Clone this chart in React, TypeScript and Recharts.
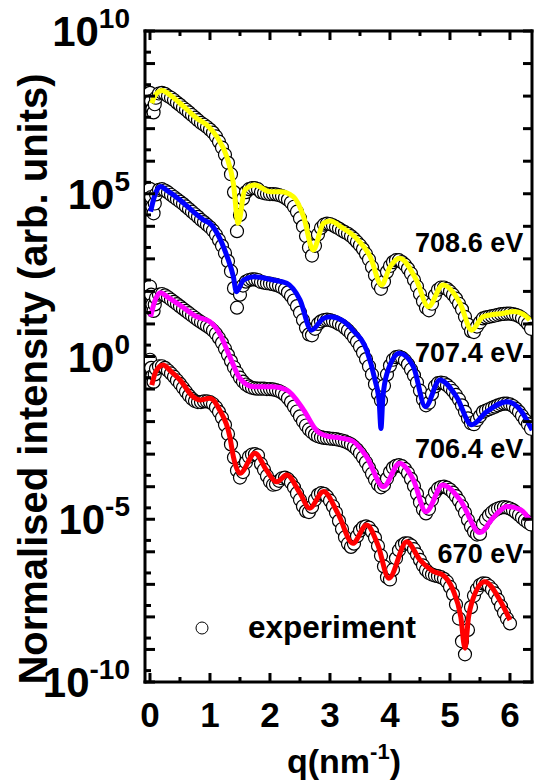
import React from 'react';
import { ComposedChart, Line, Scatter, XAxis, YAxis, ReferenceDot, Legend } from 'recharts';

const FONT = '"Liberation Sans", Arial, Helvetica, sans-serif';

// ---------- experiment (open circles): q grid and log10(intensity) ----------
const expQ = [0, 0.02, 0.04, 0.06, 0.08, 0.1,
  0.15, 0.2, 0.25, 0.3, 0.35, 0.4, 0.45, 0.5, 0.55, 0.6,
  0.65, 0.7, 0.75, 0.8, 0.85, 0.9, 0.95, 1.0, 1.05, 1.1,
  1.15, 1.2, 1.25, 1.3, 1.35, 1.4, 1.45, 1.5, 1.55, 1.6,
  1.65, 1.7, 1.75, 1.8, 1.85, 1.9, 1.95, 2.0, 2.05, 2.1,
  2.15, 2.2, 2.25, 2.3, 2.35, 2.4, 2.45, 2.5, 2.55, 2.6,
  2.65, 2.7, 2.75, 2.8, 2.85, 2.9, 2.95, 3.0, 3.05, 3.1,
  3.15, 3.2, 3.25, 3.3, 3.35, 3.4, 3.45, 3.5, 3.55, 3.6,
  3.65, 3.7, 3.75, 3.8, 3.85, 3.9, 3.95, 4.0, 4.05, 4.1,
  4.15, 4.2, 4.25, 4.3, 4.35, 4.4, 4.45, 4.5, 4.55, 4.6,
  4.65, 4.7, 4.75, 4.8, 4.85, 4.9, 4.95, 5.0, 5.05, 5.1,
  5.15, 5.2, 5.25, 5.3, 5.35, 5.4, 5.45, 5.5, 5.55, 5.6,
  5.65, 5.7, 5.75, 5.8, 5.85, 5.9, 5.95, 6.0, 6.05, 6.1,
  6.15, 6.2, 6.25, 6.3, 6.35];

const exp7086 = [8.10, 7.85, 7.60, 7.50, 7.75, 7.95,
  8.08, 8.10, 8.07, 8.00, 7.95, 7.88, 7.80, 7.73, 7.65, 7.58,
  7.50, 7.42, 7.34, 7.26, 7.18, 7.12, 7.05, 6.97, 6.88, 6.76,
  6.60, 6.42, 6.20, 5.95, 5.60, 5.05, 3.85, 4.35, 4.85, 5.05,
  5.14, 5.17, 5.17, 5.14, 5.05, 5.02, 5.00, 4.99, 4.99, 4.98,
  4.96, 4.93, 4.88, 4.82, 4.73, 4.60, 4.45, 4.25, 4.00, 3.70,
  3.35, 3.10, 3.40, 3.75, 3.95, 4.05, 4.08, 4.07, 4.03, 3.98,
  3.93, 3.87, 3.82, 3.77, 3.70, 3.62, 3.52, 3.42, 3.30, 3.15,
  2.98, 2.75, 2.50, 2.22, 2.08, 2.30, 2.60, 2.78, 2.90, 2.96,
  2.96, 2.90, 2.82, 2.70, 2.55, 2.35, 2.15, 1.92, 1.70, 1.50,
  1.42, 1.62, 1.88, 2.05, 2.12, 2.12, 2.08, 2.00, 1.90, 1.78,
  1.62, 1.45, 1.22, 0.98, 0.78, 0.75, 0.92, 1.05, 1.17, 1.20,
  1.22, 1.24, 1.26, 1.28, 1.30, 1.31, 1.32, 1.32, 1.30, 1.28,
  1.24, 1.18, 1.10, 1.00, 0.85];

const exp7074 = [5.15, 4.90, 4.60, 4.40, 4.70, 4.98,
  5.12, 5.14, 5.10, 5.04, 4.97, 4.90, 4.83, 4.76, 4.69, 4.61,
  4.53, 4.45, 4.37, 4.29, 4.20, 4.13, 4.05, 3.97, 3.87, 3.74,
  3.58, 3.40, 3.18, 2.93, 2.62, 2.10, 1.50, 1.90, 2.18, 2.30,
  2.35, 2.37, 2.37, 2.35, 2.29, 2.27, 2.25, 2.24, 2.22, 2.20,
  2.17, 2.12, 2.06, 1.97, 1.86, 1.72, 1.55, 1.35, 1.12, 0.88,
  0.68, 0.65, 0.85, 1.00, 1.08, 1.12, 1.13, 1.12, 1.09, 1.05,
  1.00, 0.95, 0.88, 0.80, 0.70, 0.58, 0.45, 0.30, 0.12, -0.08,
  -0.30, -0.55, -0.85, -1.15, -1.35, -0.90, -0.55, -0.28, -0.10, -0.02,
  0.00, -0.04, -0.12, -0.24, -0.40, -0.58, -0.80, -1.05, -1.32, -1.50,
  -1.42, -1.15, -0.92, -0.82, -0.80, -0.82, -0.88, -0.96, -1.06, -1.18,
  -1.32, -1.50, -1.70, -1.90, -2.05, -2.08, -1.95, -1.83, -1.70, -1.66,
  -1.62, -1.58, -1.54, -1.50, -1.47, -1.45, -1.45, -1.47, -1.52, -1.60,
  -1.70, -1.82, -1.95, -2.08, -2.22];

const exp7064 = [2.15, 1.90, 1.60, 1.40, 1.60, 1.80,
  1.90, 1.92, 1.88, 1.82, 1.75, 1.68, 1.61, 1.54, 1.47, 1.40,
  1.33, 1.26, 1.19, 1.12, 1.06, 1.00, 0.94, 0.88, 0.80, 0.70,
  0.57, 0.42, 0.24, 0.05, -0.14, -0.33, -0.50, -0.65, -0.77, -0.86,
  -0.92, -0.96, -0.98, -0.99, -0.99, -0.99, -1.00, -1.00, -1.01, -1.03,
  -1.06, -1.11, -1.18, -1.28, -1.40, -1.54, -1.69, -1.84, -1.99, -2.12,
  -2.24, -2.33, -2.40, -2.45, -2.48, -2.50, -2.51, -2.52, -2.53, -2.54,
  -2.56, -2.58, -2.61, -2.65, -2.70, -2.77, -2.86, -2.97, -3.10, -3.25,
  -3.42, -3.60, -3.78, -3.93, -4.02, -3.95, -3.75, -3.55, -3.42, -3.36,
  -3.34, -3.37, -3.45, -3.58, -3.76, -3.98, -4.22, -4.48, -4.70, -4.82,
  -4.68, -4.40, -4.18, -4.06, -4.01, -4.00, -4.03, -4.09, -4.18, -4.29,
  -4.43, -4.60, -4.80, -5.02, -5.22, -5.38, -5.47, -5.45, -5.15, -5.00,
  -4.88, -4.79, -4.72, -4.67, -4.64, -4.63, -4.64, -4.67, -4.72, -4.79,
  -4.87, -4.95, -5.03, -5.10, -5.16];

const exp670 = [-0.10, -0.35, -0.60, -0.78, -0.55, -0.38,
  -0.30, -0.30, -0.35, -0.43, -0.52, -0.62, -0.73, -0.84, -0.96, -1.08,
  -1.20, -1.30, -1.37, -1.40, -1.40, -1.38, -1.38, -1.40, -1.46, -1.56,
  -1.70, -1.88, -2.10, -2.38, -2.70, -3.10, -3.50, -3.72, -3.55, -3.25,
  -3.08, -3.01, -3.00, -3.04, -3.30, -3.48, -3.67, -3.84, -3.94, -3.92,
  -3.82, -3.74, -3.72, -3.77, -3.87, -4.02, -4.20, -4.40, -4.60, -4.75,
  -4.78, -4.62, -4.40, -4.25, -4.20, -4.22, -4.30, -4.43, -4.60, -4.80,
  -5.05, -5.30, -5.55, -5.75, -5.85, -5.75, -5.52, -5.35, -5.25, -5.22,
  -5.26, -5.38, -5.57, -5.82, -6.12, -6.45, -6.78, -6.85, -6.55, -6.20,
  -5.95, -5.80, -5.74, -5.74, -5.80, -5.92, -6.08, -6.25, -6.42, -6.56,
  -6.65, -6.70, -6.73, -6.75, -6.78, -6.83, -6.92, -7.08, -7.30, -7.62,
  -8.05, -8.75, -9.15, -8.40, -7.70, -7.35, -7.15, -7.02, -6.97, -6.98,
  -7.05, -7.15, -7.28, -7.47, -7.67, -7.87, -8.05, -8.20];

// ---------- fits (solid lines): q and log10(intensity) ----------
const fitQ7086 = [0.03, 0.08, 0.2, 0.345, 0.5, 0.64, 0.78, 0.95, 1.115, 1.28, 1.39, 1.47, 1.58, 1.75, 2.0, 2.17, 2.39, 2.56, 2.72, 2.89, 3.0, 3.21, 3.44, 3.67, 3.86, 4.0, 4.16, 4.44, 4.64, 4.88, 5.17, 5.36, 5.55, 5.89, 6.06, 6.22, 6.33];
const fitE7086 = [7.78, 8.0, 8.17, 8.02, 7.78, 7.55, 7.32, 7.11, 6.75, 6.14, 5.32, 4.09, 5.12, 5.27, 5.06, 5.06, 4.91, 4.30, 3.27, 4.09, 4.16, 3.95, 3.63, 3.07, 2.20, 2.75, 3.02, 2.35, 1.53, 2.20, 1.63, 0.81, 1.22, 1.33, 1.38, 1.30, 1.12];

const fitQ7074 = [0.01, 0.08, 0.17, 0.3, 0.5, 0.74, 0.89, 1.0, 1.13, 1.28, 1.39, 1.44, 1.56, 1.73, 2.05, 2.28, 2.5, 2.69, 2.89, 3.01, 3.21, 3.38, 3.61, 3.75, 3.82, 3.85, 3.88, 3.95, 4.16, 4.39, 4.59, 4.83, 5.11, 5.36, 5.61, 5.95, 6.17, 6.37];
const fitE7074 = [4.45, 4.95, 5.22, 5.08, 4.81, 4.42, 4.20, 4.09, 3.75, 3.10, 2.45, 1.99, 2.35, 2.45, 2.35, 2.25, 1.74, 0.81, 1.17, 1.22, 1.10, 0.81, 0.20, -0.72, -1.4, -2.21, -1.3, -0.52, 0.10, -0.31, -1.54, -0.72, -1.24, -2.10, -1.70, -1.39, -1.64, -2.26];

const fitQ7064 = [0.01, 0.08, 0.17, 0.3, 0.5, 0.78, 1.0, 1.16, 1.33, 1.5, 1.73, 2.05, 2.28, 2.56, 2.78, 2.96, 3.16, 3.38, 3.61, 3.89, 4.16, 4.39, 4.6, 4.88, 5.17, 5.5, 5.72, 5.95, 6.17, 6.33];
const fitE7064 = [1.22, 1.70, 1.96, 1.82, 1.58, 1.22, 1.07, 0.71, 0.0, -0.67, -0.93, -0.93, -1.03, -1.64, -2.28, -2.45, -2.50, -2.60, -3.08, -4.0, -3.28, -3.79, -4.77, -3.95, -4.41, -5.41, -4.95, -4.61, -4.70, -5.02];

const fitQ670 = [0.03, 0.1, 0.22, 0.345, 0.5, 0.72, 0.83, 1.0, 1.16, 1.33, 1.39, 1.5, 1.75, 1.94, 2.11, 2.28, 2.5, 2.66, 2.89, 3.14, 3.38, 3.61, 3.8, 3.98, 4.28, 4.5, 4.73, 4.88, 5.05, 5.18, 5.25, 5.31, 5.36, 5.58, 5.83, 6.0];
const fitE670 = [-0.88, -0.45, -0.26, -0.45, -0.72, -1.24, -1.34, -1.28, -1.64, -2.46, -3.08, -3.59, -2.97, -3.49, -3.85, -3.64, -4.20, -4.66, -4.15, -4.85, -5.74, -5.18, -5.80, -6.81, -5.69, -6.25, -6.61, -6.71, -7.17, -8.0, -8.96, -8.0, -7.58, -6.92, -7.48, -8.10];

// ---------- labels & ticks ----------
const seriesNames = ['708.6 eV', '707.4 eV', '706.4 eV', '670 eV'];
const seriesColors = ['#FFFF00', '#0000FF', '#FF00FF', '#FF0000'];
const labelQ = [6.22, 6.22, 6.22, 6.22];
const labelE = [3.21, -0.17, -3.12, -6.34];
const xTicks = [0, 0.5, 1, 1.5, 2, 2.5, 3, 3.5, 4, 4.5, 5, 5.5, 6];
const yDecades = [-10, -9, -8, -7, -6, -5, -4, -3, -2, -1, 0, 1, 2, 3, 4, 5, 6, 7, 8, 9, 10];
const yLabelled = [-10, -5, 0, 5, 10];
const minorOffset = 0.35;

const toPts = (qs: number[], es: number[]) =>
  es.map((e, i) => ({ q: qs[i], v: Math.pow(10, e) }));

const fits = [
  toPts(fitQ7086, fitE7086),
  toPts(fitQ7074, fitE7074),
  toPts(fitQ7064, fitE7064),
  toPts(fitQ670, fitE670),
];
const exps = [
  toPts(expQ, exp7086),
  toPts(expQ, exp7074),
  toPts(expQ, exp7064),
  toPts(expQ, exp670),
];

const leftTicks = [
  ...yDecades.map((d) => Math.pow(10, d)),
  ...yDecades.slice(0, -1).map((d) => Math.pow(10, d + minorOffset)),
];
const rightTicks = yDecades.map((d) => Math.pow(10, d));

const isMajorLog = (v: number) => {
  const e = Math.log10(v);
  return Math.abs(e - Math.round(e)) < 1e-6;
};

const LeftTick = (p: any) => {
  const { x, y, payload } = p;
  const major = isMajorLog(payload.value);
  const e = Math.round(Math.log10(payload.value));
  return (
    <g>
      <line x1={x} x2={x + (major ? 10 : 6)} y1={y} y2={y} stroke="#000" strokeWidth={3} />
      {major && yLabelled.includes(e) && (
        <text x={x - 15} y={y + 15} textAnchor="end" fontSize={42} fontWeight="bold" fontFamily={FONT} fill="#000">
          10<tspan dy={-18} fontSize={28}>{e}</tspan>
        </text>
      )}
    </g>
  );
};

const RightTick = (p: any) => {
  const { x, y } = p;
  return <line x1={x} x2={x - 9} y1={y} y2={y} stroke="#000" strokeWidth={3} />;
};

const BottomTick = (p: any) => {
  const { x, y, payload } = p;
  const major = Number.isInteger(payload.value);
  return (
    <g>
      <line x1={x} x2={x} y1={y} y2={y - (major ? 9 : 5)} stroke="#000" strokeWidth={3} />
      {major && (
        <text x={x} y={y + 45} textAnchor="middle" fontSize={35} fontWeight="bold" fontFamily={FONT} fill="#000">
          {payload.value}
        </text>
      )}
    </g>
  );
};

const TopTick = (p: any) => {
  const { x, y, payload } = p;
  const major = Number.isInteger(payload.value);
  return <line x1={x} x2={x} y1={y} y2={y + (major ? 9 : 5)} stroke="#000" strokeWidth={3} />;
};

const YTitle = () => (
  <text transform="translate(47,379) rotate(-90)" textAnchor="middle" fontSize={40} fontWeight="bold" fontFamily={FONT} fill="#000">
    Normalised intensity (arb. units)
  </text>
);

const XTitle = () => (
  <text x={344} y={773} textAnchor="middle" fontSize={34} fontWeight="bold" fontFamily={FONT} fill="#000">
    q(nm<tspan dy={-14} fontSize={22}>-1</tspan><tspan dy={14}>)</tspan>
  </text>
);

const circleShape = (p: any) => (
  <circle cx={p.cx} cy={p.cy} r={6.5} fill="#fff" stroke="#000" strokeWidth={1.2} />
);

const LegendContent = () => (
  <svg width={260} height={36} style={{ display: 'block' }}>
    <circle cx={12} cy={18} r={6} fill="#fff" stroke="#000" strokeWidth={1} />
    <text x={58} y={28} fontSize={31.5} fontWeight="bold" fontFamily={FONT} fill="#000">experiment</text>
  </svg>
);

const axisLine = { stroke: '#000', strokeWidth: 3, strokeLinecap: 'square' as const };

export default function App() {
  return (
    <div style={{ position: 'absolute', left: 0, top: 0, background: '#fff' }}>
      <ComposedChart width={536} height={780} margin={{ top: 30, right: 3, bottom: 97, left: 144 }}>
        <XAxis
          xAxisId={0}
          dataKey="q"
          type="number"
          domain={[-0.083, 6.367]}
          allowDataOverflow
          ticks={xTicks}
          interval={0}
          height={1}
          tickSize={0}
          tickMargin={0}
          tickLine={false}
          axisLine={axisLine}
          tick={<BottomTick />}
          label={<XTitle />}
        />
        <XAxis
          xAxisId="top"
          orientation="top"
          dataKey="q"
          type="number"
          domain={[-0.083, 6.367]}
          allowDataOverflow
          ticks={xTicks}
          interval={0}
          height={1}
          tickSize={0}
          tickMargin={0}
          tickLine={false}
          axisLine={axisLine}
          tick={<TopTick />}
        />
        <YAxis
          yAxisId={0}
          dataKey="v"
          type="number"
          scale="log"
          domain={[1e-10, 1e10]}
          allowDataOverflow
          ticks={leftTicks}
          interval={0}
          width={1}
          tickSize={0}
          tickMargin={0}
          tickLine={false}
          axisLine={axisLine}
          tick={<LeftTick />}
          label={<YTitle />}
        />
        <YAxis
          yAxisId="right"
          orientation="right"
          dataKey="v"
          type="number"
          scale="log"
          domain={[1e-10, 1e10]}
          allowDataOverflow
          ticks={rightTicks}
          interval={0}
          width={1}
          tickSize={0}
          tickMargin={0}
          tickLine={false}
          axisLine={axisLine}
          tick={<RightTick />}
        />
        {seriesNames.map((name, i) => [
          <Scatter
            key={name + '-exp'}
            name={name + ' experiment'}
            data={exps[i]}
            dataKey="v"
            shape={circleShape}
            zIndex={600 + i * 20}
            isAnimationActive={false}
          />,
          <Line
            key={name + '-fit'}
            name={name}
            data={fits[i]}
            dataKey="v"
            type="monotone"
            stroke={seriesColors[i]}
            strokeWidth={5}
            dot={false}
            activeDot={false}
            zIndex={610 + i * 20}
            isAnimationActive={false}
          />,
        ])}
        {seriesNames.map((name, i) => (
          <ReferenceDot
            key={name + '-label'}
            x={labelQ[i]}
            y={Math.pow(10, labelE[i])}
            r={0}
            ifOverflow="visible"
            shape={(p: any) => (
              <text x={p.cx} y={p.cy} textAnchor="end" fontSize={27} fontWeight="bold" fontFamily={FONT} fill="#000">
                {name}
              </text>
            )}
          />
        ))}
        <Legend
          layout="horizontal"
          verticalAlign="middle"
          align="center"
          wrapperStyle={{ position: 'absolute', left: 190, top: 610, width: 260, height: 36 }}
          content={<LegendContent />}
        />
      </ComposedChart>
    </div>
  );
}
